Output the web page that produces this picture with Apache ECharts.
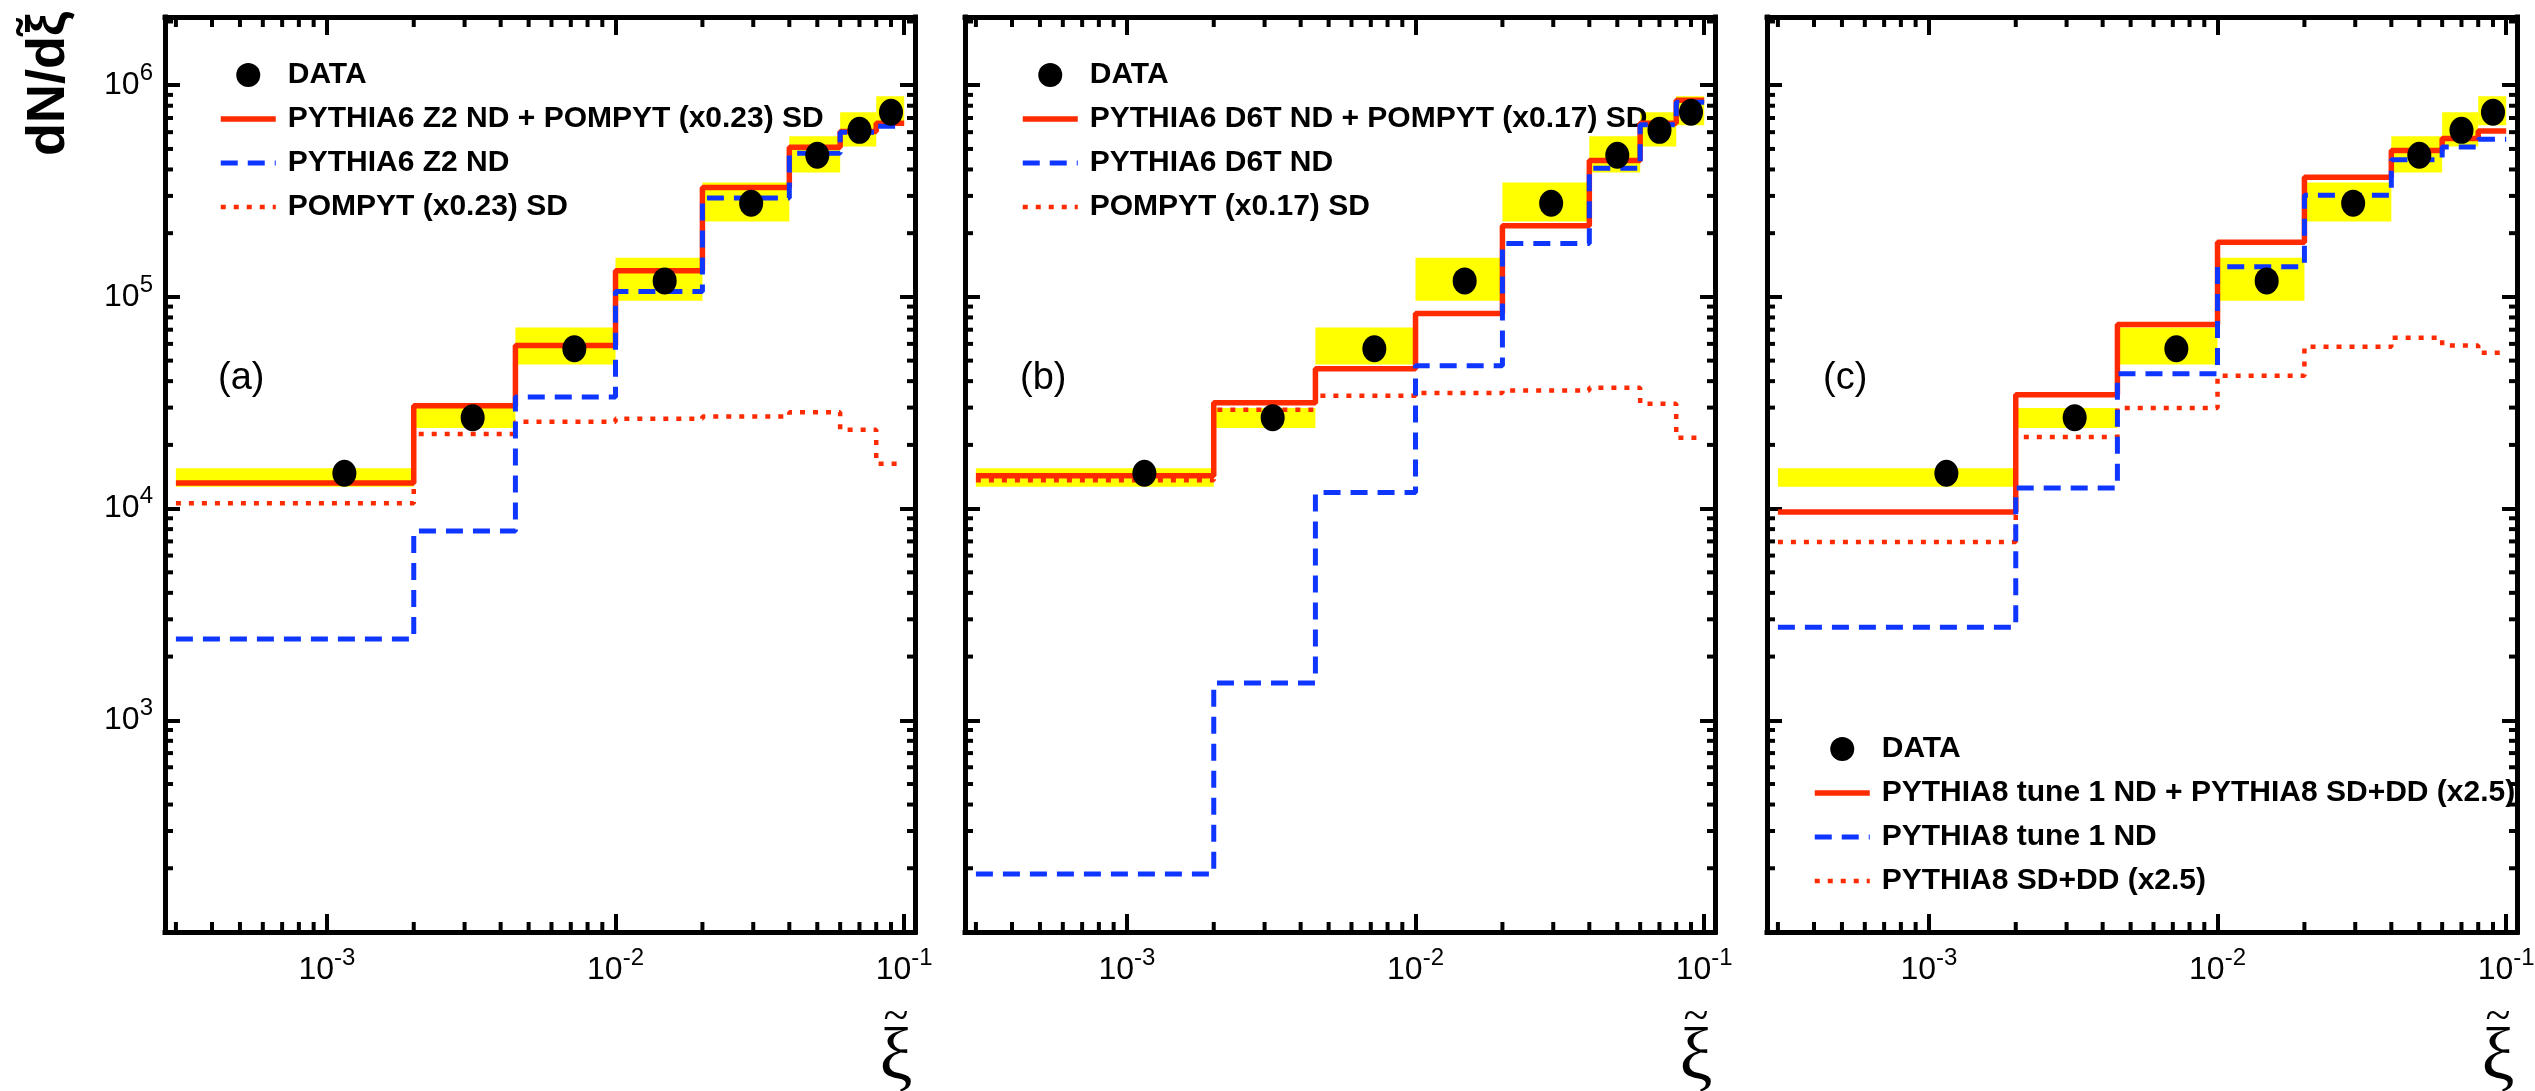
<!DOCTYPE html>
<html>
<head>
<meta charset="utf-8">
<script src="https://cdn.jsdelivr.net/npm/echarts@6/dist/echarts.min.js"></script>
<style>
  html, body { margin: 0; padding: 0; background: #fff; }
  #chart { width: 2535px; height: 1091px; }
</style>
</head>
<body>
<div id="chart"></div>
<script>
// bin edges in xi (same binning for every curve)
const edges = [3e-4, 2e-3, 4.5e-3, 0.01, 0.02, 0.04, 0.06, 0.08, 0.1];

// measured points + systematic band (yellow)
const dataX = [1.15e-3, 3.2e-3, 7.2e-3, 0.0148, 0.0295, 0.05, 0.07, 0.09];
const dataY = [14700, 26900, 56900, 119000, 277000, 467000, 612000, 745000];
const bandLo = [12700, 24000, 47900, 96000, 227000, 387000, 514000, 647000];
const bandHi = [15500, 29900, 71600, 153000, 347000, 574000, 745000, 887000];

// (a) PYTHIA6 Z2
const aSum = [13200, 30600, 58900, 133000, 329000, 509000, 605000, 661000];
const aND  = [2420, 7830, 33700, 106000, 293000, 477000, 600000, 640000];
const aSD  = [10600, 22500, 25700, 26600, 27200, 28500, 23600, 16300];

// (b) PYTHIA6 D6T
const bSum = [14300, 31600, 45800, 83400, 217000, 441000, 661000, 849000];
const bND  = [188, 1500, 11900, 47300, 179000, 405000, 650000, 830000];
const bSD  = [13600, 29300, 34100, 35200, 36100, 37200, 31300, 21600];

// (c) PYTHIA8 tune 1
const cSum = [9640, 34500, 74000, 181000, 367000, 492000, 560000, 608000];
const cND  = [2750, 12500, 43300, 139000, 302000, 444000, 510000, 555000];
const cSD  = [6950, 21800, 29900, 42400, 58200, 64100, 58900, 54500];

const namesA = ['DATA', 'PYTHIA6 Z2 ND + POMPYT (x0.23) SD', 'PYTHIA6 Z2 ND', 'POMPYT (x0.23) SD'];
const namesB = ['DATA', 'PYTHIA6 D6T ND + POMPYT (x0.17) SD', 'PYTHIA6 D6T ND', 'POMPYT (x0.17) SD'];
const namesC = ['DATA', 'PYTHIA8 tune 1 ND + PYTHIA8 SD+DD (x2.5)', 'PYTHIA8 tune 1 ND', 'PYTHIA8 SD+DD (x2.5)'];

const FONT = '"Liberation Sans", Arial, Helvetica, sans-serif';
const SERIF = '"Liberation Serif", "DejaVu Serif", serif';
const RED = '#ff2a00', BLUE = '#0f36ff', YELLOW = '#ffff00';
const xMin = 2.75e-4, xMax = 0.109, yMin = 100, yMax = 2.1e6;

const panels = [
  { left: 165, tag: '(a)', names: namesA, sum: aSum, nd: aND, sd: aSD, legLeft: 218, legTop: 60, tagLeft: 213, yLabels: true },
  { left: 965, tag: '(b)', names: namesB, sum: bSum, nd: bND, sd: bSD, legLeft: 1020, legTop: 60, tagLeft: 1015, yLabels: false },
  { left: 1767, tag: '(c)', names: namesC, sum: cSum, nd: cND, sd: cSD, legLeft: 1812, legTop: 734, tagLeft: 1818, yLabels: false }
];

// minor tick positions (2..9 x 10^k), axis decoration only
const xMinor = [], yMinor = [];
for (let k = -4; k <= -1; k++) for (let m = 2; m <= 9; m++) {
  const v = m * Math.pow(10, k);
  if (v > xMin && v < xMax) xMinor.push(v);
}
for (let k = 2; k <= 6; k++) for (let m = 2; m <= 9; m++) {
  const v = m * Math.pow(10, k);
  if (v > yMin && v < yMax) yMinor.push(v);
}

function histPoints(vals) {
  return edges.map((e, i) => [e, vals[Math.min(i, vals.length - 1)]]);
}

function powLabel(v, skip) {
  const lg = Math.log10(v), e = Math.round(lg);
  if (Math.abs(lg - e) > 1e-6 || (skip && skip.indexOf(e) >= 0)) return '';
  return '{b|10}{s|' + e + '}';
}
const rich = {
  b: { fontSize: 32, lineHeight: 48, verticalAlign: 'middle', fontFamily: FONT, color: '#000' },
  s: { fontSize: 24, lineHeight: 20, verticalAlign: 'top', fontFamily: FONT, color: '#000' }
};

const axisLine = { show: true, onZero: false, lineStyle: { color: '#000', width: 5, cap: 'square' } };

const xAxes = [], yAxes = [], grids = [], series = [], legends = [], titles = [];

panels.forEach((p, i) => {
  grids.push({ left: p.left, top: 17, width: 750, height: 915, show: false, containLabel: false, outerBoundsMode: 'none' });

  ['bottom', 'top'].forEach(pos => {
    xAxes.push({
      type: 'log', logBase: 10, gridIndex: i, position: pos, min: xMin, max: xMax,
      axisLine: axisLine,
      axisTick: { show: true, inside: true, length: 18, lineStyle: { color: '#000', width: 4 } },
      axisLabel: pos === 'bottom'
        ? { show: true, margin: 14, formatter: v => powLabel(v), rich: rich }
        : { show: false },
      splitLine: { show: false },
      name: pos === 'bottom' ? '{t|~}\n{x|ξ}' : '',
      nameLocation: 'end',
      nameGap: -19,
      nameMoveOverlap: false,
      nameTextStyle: {
        align: 'center', verticalAlign: 'top', padding: [76, 0, 0, 0],
        rich: {
          t: { fontFamily: SERIF, fontSize: 46, lineHeight: 20, color: '#000', align: 'center' },
          x: { fontFamily: SERIF, fontSize: 74, lineHeight: 64, color: '#000', align: 'center' }
        }
      }
    });
  });
  ['left', 'right'].forEach(pos => {
    yAxes.push({
      type: 'log', logBase: 10, gridIndex: i, position: pos, min: yMin, max: yMax,
      axisLine: axisLine,
      axisTick: { show: true, inside: true, length: 15, lineStyle: { color: '#000', width: 4 } },
      axisLabel: (pos === 'left' && p.yLabels)
        ? { show: true, margin: 12, formatter: v => powLabel(v, [2]), rich: rich }
        : { show: false },
      splitLine: { show: false }
    });
  });

  const xi = i * 2, yi = i * 2;

  // yellow systematic band
  series.push({
    type: 'custom', name: 'band' + i, xAxisIndex: xi, yAxisIndex: yi, silent: true, z: 1,
    data: bandLo.map((lo, k) => [edges[k], lo, edges[k + 1], bandHi[k]]),
    encode: { x: [0, 2], y: [1, 3] },
    renderItem: (params, api) => {
      const p0 = api.coord([api.value(0), api.value(3)]);
      const p1 = api.coord([api.value(2), api.value(1)]);
      return { type: 'rect', shape: { x: p0[0], y: p0[1], width: p1[0] - p0[0], height: p1[1] - p0[1] },
               style: { fill: YELLOW } };
    }
  });

  series.push({
    type: 'line', name: p.names[3], xAxisIndex: xi, yAxisIndex: yi, step: 'end', symbol: 'none', z: 3,
    data: histPoints(p.sd), itemStyle: { color: RED },
    lineStyle: { color: RED, width: 4.5, type: [5, 8], cap: 'butt' }
  });
  series.push({
    type: 'line', name: p.names[1], xAxisIndex: xi, yAxisIndex: yi, step: 'end', symbol: 'none', z: 4,
    data: histPoints(p.sum), itemStyle: { color: RED },
    lineStyle: { color: RED, width: 5.5, type: 'solid' }
  });
  series.push({
    type: 'line', name: p.names[2], xAxisIndex: xi, yAxisIndex: yi, step: 'end', symbol: 'none', z: 5,
    data: histPoints(p.nd), itemStyle: { color: BLUE },
    lineStyle: { color: BLUE, width: 5, type: [17, 10], cap: 'butt' }
  });
  series.push({
    type: 'scatter', name: p.names[0], xAxisIndex: xi, yAxisIndex: yi, z: 8,
    symbol: 'circle', symbolSize: [24, 27], itemStyle: { color: '#000', opacity: 1 },
    data: dataX.map((x, k) => [x, dataY[k]])
  });

  // minor ticks, top and bottom
  series.push({
    type: 'custom', name: 'xminor' + i, xAxisIndex: xi, yAxisIndex: yi, silent: true, z: 10, clip: false,
    data: xMinor.map(v => [v, yMin]),
    renderItem: (params, api) => {
      const px = api.coord([api.value(0), api.value(1)])[0];
      const cs = params.coordSys;
      const st = { stroke: '#000', lineWidth: 4 };
      return { type: 'group', children: [
        { type: 'line', shape: { x1: px, y1: cs.y + cs.height, x2: px, y2: cs.y + cs.height - 10 }, style: st },
        { type: 'line', shape: { x1: px, y1: cs.y, x2: px, y2: cs.y + 10 }, style: st }
      ] };
    }
  });
  // minor ticks, left and right
  series.push({
    type: 'custom', name: 'yminor' + i, xAxisIndex: xi, yAxisIndex: yi, silent: true, z: 10, clip: false,
    data: yMinor.map(v => [xMin, v]),
    renderItem: (params, api) => {
      const py = api.coord([api.value(0), api.value(1)])[1];
      const cs = params.coordSys;
      const st = { stroke: '#000', lineWidth: 4 };
      return { type: 'group', children: [
        { type: 'line', shape: { x1: cs.x, y1: py, x2: cs.x + 8, y2: py }, style: st },
        { type: 'line', shape: { x1: cs.x + cs.width, y1: py, x2: cs.x + cs.width - 8, y2: py }, style: st }
      ] };
    }
  });

  legends.push({
    orient: 'vertical', left: p.legLeft, top: p.legTop, padding: 0,
    itemWidth: 55, itemHeight: 24, itemGap: 14, selectedMode: false,
    textStyle: { fontSize: 30, fontWeight: 'bold', fontFamily: FONT, color: '#000', padding: [0, 0, 0, 7] },
    lineStyle: { width: 'inherit' },
    data: [
      { name: p.names[0], itemStyle: { opacity: 1 } },
      { name: p.names[1], itemStyle: { opacity: 0 } },
      { name: p.names[2], itemStyle: { opacity: 0 } },
      { name: p.names[3], itemStyle: { opacity: 0 } }
    ]
  });

  titles.push({
    text: p.tag, left: p.tagLeft, top: 355,
    textStyle: { fontSize: 38, fontWeight: 'normal', fontFamily: FONT, color: '#000' }
  });
});

const chart = echarts.init(document.getElementById('chart'));
chart.setOption({
  animation: false,
  backgroundColor: '#fff',
  title: titles,
  grid: grids,
  xAxis: xAxes,
  yAxis: yAxes,
  legend: legends,
  series: series,
  graphic: [{
    type: 'text', x: 49, y: 12, rotation: Math.PI / 2,
    style: { text: 'dN/dξ̃', font: 'bold 54px ' + FONT, fill: '#000', align: 'right', verticalAlign: 'middle' }
  }]
});
</script>
</body>
</html>
